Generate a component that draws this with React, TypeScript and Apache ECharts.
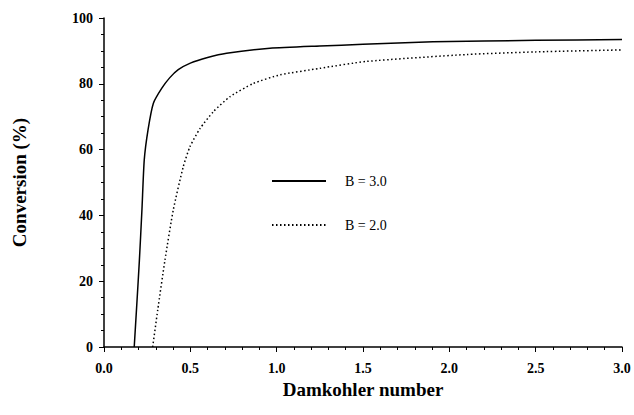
import React, { useEffect, useRef } from "react";
import * as echarts from "echarts";

const b3X = [0.175, 0.19, 0.205, 0.22, 0.233, 0.255, 0.286, 0.334, 0.38, 0.43, 0.5, 0.6, 0.71, 0.961, 1.25, 1.5, 1.905, 2.5, 3.0];
const b3Y = [0, 13, 26.4, 42, 56.8, 66, 74.1, 78.6, 81.8, 84.3, 86.3, 88, 89.3, 90.8, 91.5, 92, 92.8, 93.2, 93.5];
const b2X = [0.282, 0.311, 0.353, 0.401, 0.459, 0.498, 0.556, 0.633, 0.73, 0.865, 1.019, 1.25, 1.52, 2.1, 2.5, 3.0];
const b2Y = [0, 11.2, 26.4, 41.6, 54.8, 60.9, 66.4, 71.5, 76.1, 80.1, 82.7, 84.7, 86.8, 88.9, 89.7, 90.3];
const seriesNames = ["B = 3.0", "B = 2.0"];

const FONT = "'Liberation Serif', 'Times New Roman', serif";

export default function App() {
  const ref = useRef<HTMLDivElement>(null);
  useEffect(() => {
    const chart = echarts.init(ref.current!, null, { renderer: "svg" });
    const zip = (xs: number[], ys: number[]) => xs.map((x, i) => [x, ys[i]]);
    chart.setOption({
      animation: false,
      backgroundColor: "#fff",
      textStyle: { fontFamily: FONT },
      grid: { left: 104, right: 12, top: 18, bottom: 68 },
      legend: {
        left: 266,
        top: 169,
        orient: "vertical",
        itemWidth: 54,
        itemHeight: 14,
        itemGap: 30,
        itemStyle: { opacity: 0, borderWidth: 0 },
        textStyle: { fontFamily: FONT, fontSize: 14, color: "#000", padding: [0, 0, 0, 14] },
        data: seriesNames,
      },
      xAxis: {
        type: "value",
        min: 0,
        max: 3,
        interval: 0.5,
        name: "Damkohler number",
        nameLocation: "middle",
        nameGap: 33,
        nameTextStyle: { fontFamily: FONT, fontSize: 19, fontWeight: "bold", color: "#000" },
        axisLine: { lineStyle: { color: "#000", width: 1.5 } },
        axisTick: { length: 5, lineStyle: { color: "#000" } },
        minorTick: { show: true, splitNumber: 5, length: 3, lineStyle: { color: "#000" } },
        axisLabel: {
          margin: 14,
          fontFamily: FONT,
          fontSize: 14,
          fontWeight: "bold",
          color: "#000",
          formatter: (v: number) => v.toFixed(1),
        },
        splitLine: { show: false },
      },
      yAxis: {
        type: "value",
        min: 0,
        max: 100,
        interval: 20,
        name: "Conversion (%)",
        nameLocation: "middle",
        nameGap: 75,
        nameTextStyle: { fontFamily: FONT, fontSize: 19, fontWeight: "bold", color: "#000" },
        axisLine: { show: true, lineStyle: { color: "#000", width: 1.5 } },
        axisTick: { show: true, length: 5, lineStyle: { color: "#000" } },
        minorTick: { show: true, splitNumber: 4, length: 3, lineStyle: { color: "#000" } },
        axisLabel: { margin: 11, fontFamily: FONT, fontSize: 14, fontWeight: "bold", color: "#000" },
        splitLine: { show: false },
      },
      series: [
        {
          name: seriesNames[0],
          type: "line",
          data: zip(b3X, b3Y),
          smooth: 0.2,
          symbol: "none",
          lineStyle: { color: "#000", width: 1.5, type: "solid" },
          itemStyle: { color: "#000" },
        },
        {
          name: seriesNames[1],
          type: "line",
          data: zip(b2X, b2Y),
          smooth: 0.2,
          symbol: "none",
          lineStyle: { color: "#000", width: 1.5, type: [1.5, 2.5] },
          itemStyle: { color: "#000" },
        },
      ],
    });
    return () => chart.dispose();
  }, []);
  return <div ref={ref} style={{ width: 634, height: 415, position: "absolute", left: 0, top: 0 }} />;
}
